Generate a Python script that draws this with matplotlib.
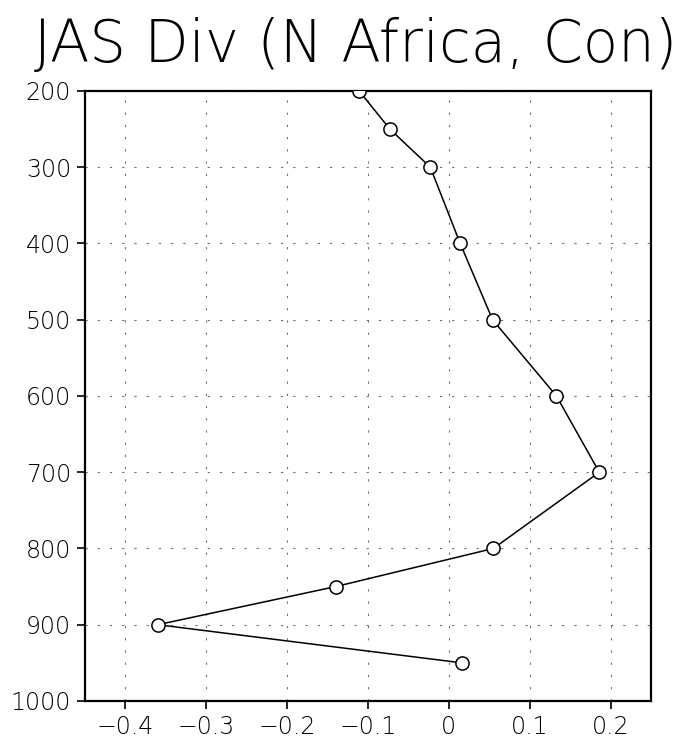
import matplotlib
matplotlib.use("Agg")
import matplotlib.pyplot as plt

# divergence profile by pressure level
levels = [200, 250, 300, 400, 500, 600, 700, 800, 850, 900, 950]
div = [-0.111, -0.073, -0.023, 0.014, 0.054, 0.133, 0.186, 0.055, -0.140, -0.360, 0.016]

xticks = [-0.4, -0.3, -0.2, -0.1, 0, 0.1, 0.2]
xlabels = ["\u22120.4", "\u22120.3", "\u22120.2", "\u22120.1", "0", "0.1", "0.2"]
yticks = [200, 300, 400, 500, 600, 700, 800, 900, 1000]

plt.rcParams['font.family'] = ['DejaVu Sans']

fig = plt.figure(figsize=(6.89, 7.45), dpi=100)
ax = fig.add_axes([0.1234, 0.0591, 0.8215, 0.8188])

ax.plot(div, levels, color="black", lw=1.1, marker="o", ms=9.5,
        mfc="white", mec="black", mew=1.1, zorder=3)

ax.set_xlim(-0.45, 0.25)
ax.set_ylim(1000, 200)
ax.set_xticks(xticks)
ax.set_xticklabels(xlabels)
ax.set_yticks(yticks)

ax.grid(True, color="#707070", lw=0.8, linestyle=(0, (2, 9)))
ax.tick_params(direction="out", length=6, width=1.2, labelsize=17, pad=4)
for s in ax.spines.values():
    s.set_linewidth(1.6)
for lab in ax.get_xticklabels() + ax.get_yticklabels():
    lab.set_fontweight("light")

fig.text(0.516, 0.938, "JAS Div (N Africa, Con)", ha="center", va="center",
         fontsize=41.5, fontweight="light")

fig.savefig("out.png", dpi=100)
